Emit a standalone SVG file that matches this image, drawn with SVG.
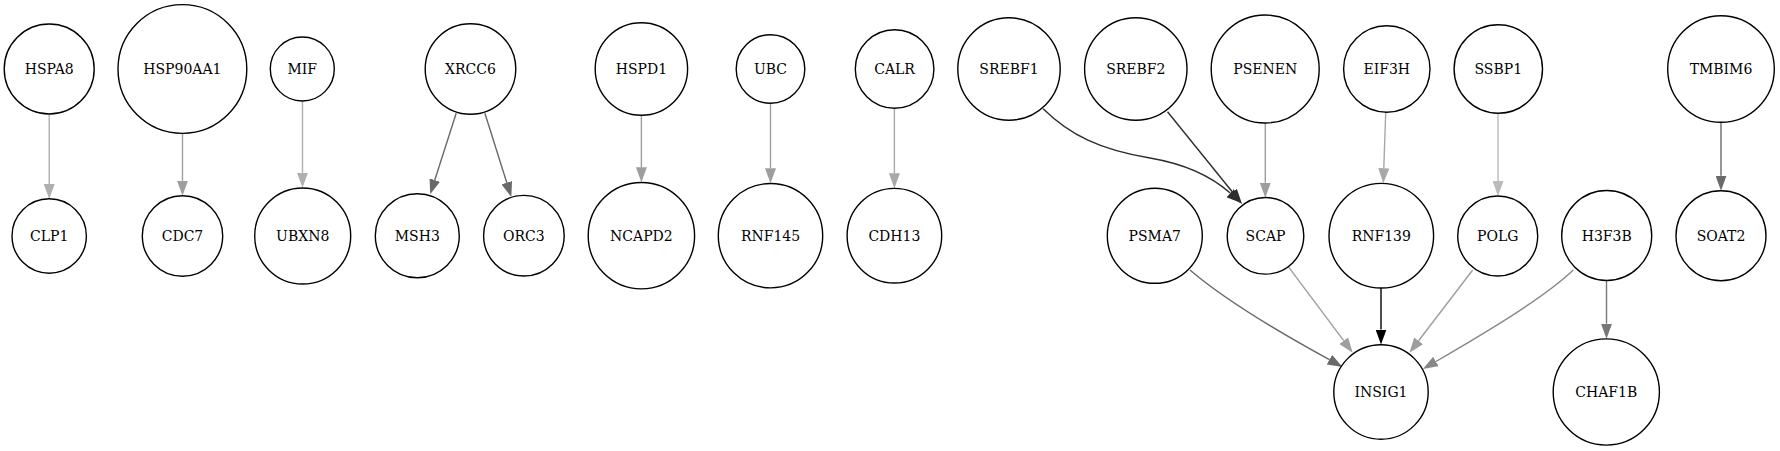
<svg xmlns="http://www.w3.org/2000/svg" width="1780" height="451" viewBox="0 0 1780 451">
<style>
.node ellipse{fill:#fff;stroke:#000;stroke-width:1.4}
.node text{font-family:"DejaVu Serif","Liberation Serif",serif;font-size:14px;text-anchor:middle;fill:#000}
.e{fill:none;stroke-width:1.4}
.k0{stroke:#000;marker-end:url(#a0)}
.k2{stroke:#2e2e2e;marker-end:url(#a2)}
.k6{stroke:#696969;marker-end:url(#a6)}
.k7{stroke:#777;marker-end:url(#a7)}
.k8{stroke:#888;marker-end:url(#a8)}
.k9{stroke:#9e9e9e;marker-end:url(#a9)}
.ka{stroke:#a8a8a8;marker-end:url(#aa)}
.kb{stroke:#b0b0b0;marker-end:url(#ab)}
.kc{stroke:#bbb;marker-end:url(#ac)}
</style>
<defs>
<marker id="a0" markerUnits="userSpaceOnUse" viewBox="0 0 15 11" markerWidth="15" markerHeight="11" refX="0" refY="5.5" orient="auto"><path d="M0,0L15,5.5L0,11z" fill="#000"/></marker>
<marker id="a2" markerUnits="userSpaceOnUse" viewBox="0 0 15 11" markerWidth="15" markerHeight="11" refX="0" refY="5.5" orient="auto"><path d="M0,0L15,5.5L0,11z" fill="#2e2e2e"/></marker>
<marker id="a6" markerUnits="userSpaceOnUse" viewBox="0 0 15 11" markerWidth="15" markerHeight="11" refX="0" refY="5.5" orient="auto"><path d="M0,0L15,5.5L0,11z" fill="#696969"/></marker>
<marker id="a7" markerUnits="userSpaceOnUse" viewBox="0 0 15 11" markerWidth="15" markerHeight="11" refX="0" refY="5.5" orient="auto"><path d="M0,0L15,5.5L0,11z" fill="#777"/></marker>
<marker id="a8" markerUnits="userSpaceOnUse" viewBox="0 0 15 11" markerWidth="15" markerHeight="11" refX="0" refY="5.5" orient="auto"><path d="M0,0L15,5.5L0,11z" fill="#888"/></marker>
<marker id="a9" markerUnits="userSpaceOnUse" viewBox="0 0 15 11" markerWidth="15" markerHeight="11" refX="0" refY="5.5" orient="auto"><path d="M0,0L15,5.5L0,11z" fill="#9e9e9e"/></marker>
<marker id="aa" markerUnits="userSpaceOnUse" viewBox="0 0 15 11" markerWidth="15" markerHeight="11" refX="0" refY="5.5" orient="auto"><path d="M0,0L15,5.5L0,11z" fill="#a8a8a8"/></marker>
<marker id="ab" markerUnits="userSpaceOnUse" viewBox="0 0 15 11" markerWidth="15" markerHeight="11" refX="0" refY="5.5" orient="auto"><path d="M0,0L15,5.5L0,11z" fill="#b0b0b0"/></marker>
<marker id="ac" markerUnits="userSpaceOnUse" viewBox="0 0 15 11" markerWidth="15" markerHeight="11" refX="0" refY="5.5" orient="auto"><path d="M0,0L15,5.5L0,11z" fill="#bbb"/></marker>
</defs>
<rect width="1780" height="451" fill="#fff"/>
<g id="edges">
<path class="e kb" d="M49.2,114.2V184"/>
<path class="e k9" d="M182.5,133.3V180.7"/>
<path class="e kb" d="M302.5,101V172.7"/>
<path class="e k6" d="M456.2,113.3L434.8,180"/>
<path class="e k6" d="M484.9,113.3L506.8,182.7"/>
<path class="e k9" d="M641.4,115.3V167.3"/>
<path class="e k9" d="M770.5,103.3V168.3"/>
<path class="e ka" d="M894.4,108.3V173.3"/>
<path class="e k2" d="M1043.1,108.7C1070,135 1100,150 1150,158C1185,164 1210,175 1230.2,193.1"/>
<path class="e k2" d="M1167.5,111.7L1232.6,192.3"/>
<path class="e k9" d="M1265.3,123.3V182.7"/>
<path class="e ka" d="M1385.7,112.7L1383.8,168.3"/>
<path class="e kc" d="M1498,113.3V181"/>
<path class="e k6" d="M1721,122.3V175.7"/>
<path class="e k6" d="M1190,270C1225,300 1275,330 1329.4,359.7"/>
<path class="e k9" d="M1288.3,266.7L1343.7,340.7"/>
<path class="e k0" d="M1381,288V329.5"/>
<path class="e k9" d="M1472.7,270L1418.6,340.8"/>
<path class="e k8" d="M1573.3,270C1545,297 1490,330 1435.9,361.5"/>
<path class="e k7" d="M1606.5,280V323.7"/>
</g>
<g id="HSPA8" class="node"><ellipse cx="49.2" cy="69" rx="45" ry="45"/><text x="49.2" y="74">HSPA8</text></g>
<g id="HSP90AA1" class="node"><ellipse cx="182.4" cy="69" rx="64.4" ry="64.4"/><text x="182.4" y="74">HSP90AA1</text></g>
<g id="MIF" class="node"><ellipse cx="302.3" cy="69" rx="32" ry="32"/><text x="302.3" y="74">MIF</text></g>
<g id="XRCC6" class="node"><ellipse cx="470.5" cy="69" rx="45.3" ry="45.3"/><text x="470.5" y="74">XRCC6</text></g>
<g id="HSPD1" class="node"><ellipse cx="641.4" cy="69" rx="46.2" ry="46.2"/><text x="641.4" y="74">HSPD1</text></g>
<g id="UBC" class="node"><ellipse cx="770.5" cy="69" rx="34.3" ry="34.3"/><text x="770.5" y="74">UBC</text></g>
<g id="CALR" class="node"><ellipse cx="894.6" cy="69" rx="39.3" ry="39.3"/><text x="894.6" y="74">CALR</text></g>
<g id="SREBF1" class="node"><ellipse cx="1009" cy="69" rx="51.2" ry="51.2"/><text x="1009" y="74">SREBF1</text></g>
<g id="SREBF2" class="node"><ellipse cx="1135.8" cy="69" rx="51.2" ry="51.2"/><text x="1135.8" y="74">SREBF2</text></g>
<g id="PSENEN" class="node"><ellipse cx="1265.2" cy="69" rx="54" ry="54"/><text x="1265.2" y="74">PSENEN</text></g>
<g id="EIF3H" class="node"><ellipse cx="1386.8" cy="69" rx="43.2" ry="43.2"/><text x="1386.8" y="74">EIF3H</text></g>
<g id="SSBP1" class="node"><ellipse cx="1498.3" cy="69" rx="44.2" ry="44.2"/><text x="1498.3" y="74">SSBP1</text></g>
<g id="TMBIM6" class="node"><ellipse cx="1721" cy="69" rx="53.3" ry="53.3"/><text x="1721" y="74">TMBIM6</text></g>
<g id="CLP1" class="node"><ellipse cx="49.2" cy="236" rx="37.2" ry="37.2"/><text x="49.2" y="241">CLP1</text></g>
<g id="CDC7" class="node"><ellipse cx="182.5" cy="236" rx="40.2" ry="40.2"/><text x="182.5" y="241">CDC7</text></g>
<g id="UBXN8" class="node"><ellipse cx="302.7" cy="236" rx="48" ry="48"/><text x="302.7" y="241">UBXN8</text></g>
<g id="MSH3" class="node"><ellipse cx="417.3" cy="235.7" rx="42" ry="42"/><text x="417.3" y="241">MSH3</text></g>
<g id="ORC3" class="node"><ellipse cx="523.9" cy="235.7" rx="40.3" ry="40.3"/><text x="523.9" y="241">ORC3</text></g>
<g id="NCAPD2" class="node"><ellipse cx="641.4" cy="235.7" rx="53.2" ry="53.2"/><text x="641.4" y="241">NCAPD2</text></g>
<g id="RNF145" class="node"><ellipse cx="770.5" cy="235.7" rx="52.2" ry="52.2"/><text x="770.5" y="241">RNF145</text></g>
<g id="CDH13" class="node"><ellipse cx="894.4" cy="235.7" rx="47.3" ry="47.3"/><text x="894.4" y="241">CDH13</text></g>
<g id="PSMA7" class="node"><ellipse cx="1154.8" cy="235.8" rx="47.5" ry="47.5"/><text x="1154.8" y="241">PSMA7</text></g>
<g id="SCAP" class="node"><ellipse cx="1265.5" cy="235.8" rx="38.3" ry="38.3"/><text x="1265.5" y="241">SCAP</text></g>
<g id="RNF139" class="node"><ellipse cx="1381.3" cy="235.7" rx="52.3" ry="52.3"/><text x="1381.3" y="241">RNF139</text></g>
<g id="POLG" class="node"><ellipse cx="1497.7" cy="236" rx="40" ry="40"/><text x="1497.7" y="241">POLG</text></g>
<g id="H3F3B" class="node"><ellipse cx="1606.7" cy="235.5" rx="45" ry="45"/><text x="1606.7" y="241">H3F3B</text></g>
<g id="SOAT2" class="node"><ellipse cx="1721" cy="235.7" rx="45" ry="45"/><text x="1721" y="241">SOAT2</text></g>
<g id="INSIG1" class="node"><ellipse cx="1381" cy="392" rx="47.2" ry="47.2"/><text x="1381" y="397">INSIG1</text></g>
<g id="CHAF1B" class="node"><ellipse cx="1606.3" cy="392" rx="53.1" ry="53.1"/><text x="1606.3" y="397">CHAF1B</text></g>
</svg>
